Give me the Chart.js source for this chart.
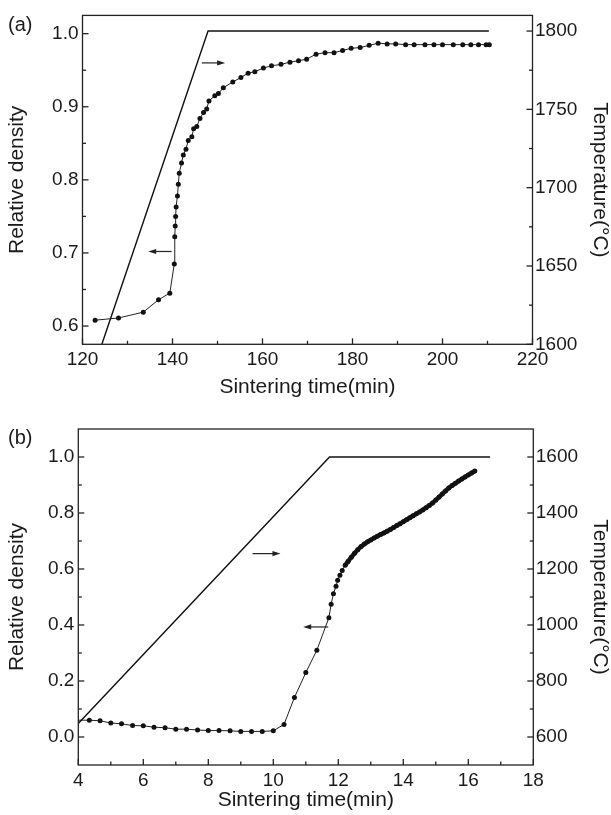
<!DOCTYPE html>
<html>
<head>
<meta charset="utf-8">
<script src="https://cdn.jsdelivr.net/npm/chart.js@4.4.0/dist/chart.umd.min.js"></script>
<style>
html, body { margin: 0; padding: 0; background: #fff; }
#wrap { position: relative; width: 611px; height: 815px; font-family: "Liberation Sans", Arial, sans-serif; }
.panel { position: absolute; left: 0; width: 611px; }
.tag { position: absolute; left: 8px; font-size: 20px; line-height: 23px; color: #1a1a1a; }
</style>
</head>
<body>
<div id="wrap">
  <div class="panel" style="top:0;height:400px"><canvas id="chartA" width="611" height="400"></canvas></div>
  <div class="panel" style="top:400px;height:415px"><canvas id="chartB" width="611" height="415"></canvas></div>
  <div class="tag" style="top:13px">(a)</div>
  <div class="tag" style="top:426px">(b)</div>
</div>
<script>
// ---- panel (a) data ----
const timeA = [122.8, 128.0, 133.5, 136.9, 139.4, 140.4, 140.5, 140.6, 140.7, 140.8, 141.1, 141.3, 141.5, 142.0,
  142.4, 143.0, 143.5, 144.3, 144.7, 145.4, 146.1, 146.9, 147.6, 148.1, 149.4, 150.2, 151.3, 153.4, 155.2,
  156.8, 158.3, 160.2, 162.0, 164.1, 166.1, 168.0, 169.8, 171.9, 173.9, 175.9, 177.8, 179.7, 181.7, 183.7,
  185.7, 187.7, 189.6, 191.8, 193.7, 196.1, 198.1, 200.0, 202.4, 204.5, 206.3, 208.0, 209.7, 210.4];
const densityA = [0.608, 0.611, 0.619, 0.636, 0.645, 0.685, 0.722, 0.737, 0.750, 0.763, 0.778, 0.794, 0.809, 0.823,
  0.834, 0.842, 0.854, 0.859, 0.870, 0.873, 0.884, 0.892, 0.897, 0.908, 0.915, 0.918, 0.926, 0.934, 0.940,
  0.946, 0.948, 0.953, 0.956, 0.958, 0.961, 0.963, 0.965, 0.972, 0.974, 0.974, 0.977, 0.980, 0.981, 0.984,
  0.987, 0.986, 0.986, 0.985, 0.985, 0.985, 0.985, 0.985, 0.985, 0.985, 0.985, 0.985, 0.985, 0.985];
const tempTimeA = [124.3, 147.9, 210.3];
const tempA = [1600, 1800, 1800];
const xTicksA = [120, 140, 160, 180, 200, 220];
const yTicksA = [0.6, 0.7, 0.8, 0.9, 1.0];
const tTicksA = [1600, 1650, 1700, 1750, 1800];
const arrowsA = [[146.5, 151.7, 0.960], [139.8, 134.6, 0.702]]; // from, to, at density

// ---- panel (b) data ----
const timeB = [4.0, 4.34, 4.67, 5.0, 5.33, 5.67, 6.0, 6.33, 6.67, 7.0, 7.33, 7.67, 8.0, 8.33, 8.67, 9.0, 9.33,
  9.66, 10.0, 10.33, 10.65, 11.0, 11.34, 11.71, 11.78, 11.85, 11.93, 11.98, 12.05, 12.12, 12.21,
  12.3, 12.4, 12.5, 12.6, 12.7, 12.8, 12.9, 13.0, 13.1, 13.2, 13.3, 13.4, 13.5, 13.6, 13.7, 13.8, 13.9,
  14.0, 14.1, 14.2, 14.3, 14.4, 14.5, 14.6, 14.7, 14.8, 14.9, 15.0, 15.1, 15.2, 15.3, 15.4, 15.5, 15.6,
  15.7, 15.8, 15.9, 16.0, 16.1, 16.2];
const densityB = [0.060, 0.060, 0.058, 0.050, 0.047, 0.041, 0.040, 0.035, 0.033, 0.028, 0.028, 0.025, 0.023, 0.023,
  0.022, 0.020, 0.020, 0.020, 0.022, 0.045, 0.141, 0.230, 0.310, 0.426, 0.474, 0.512, 0.538, 0.560, 0.578,
  0.595, 0.613, 0.627, 0.642, 0.656, 0.669, 0.680, 0.689, 0.697, 0.704, 0.711, 0.717, 0.723, 0.729, 0.735,
  0.741, 0.748, 0.755, 0.762, 0.769, 0.776, 0.783, 0.790, 0.797, 0.804, 0.811, 0.819, 0.827, 0.836, 0.846,
  0.857, 0.868, 0.879, 0.889, 0.898, 0.906, 0.914, 0.921, 0.929, 0.936, 0.943, 0.950];
const tempTimeB = [4.0, 11.73, 16.67];
const tempB = [648, 1600, 1600];
const xTicksB = [4, 6, 8, 10, 12, 14, 16, 18];
const yTicksB = [0.0, 0.2, 0.4, 0.6, 0.8, 1.0];
const tTicksB = [600, 800, 1000, 1200, 1400, 1600];
const arrowsB = [[9.36, 10.22, 0.655], [11.69, 10.92, 0.393]];

const INK = '#1a1a1a';
const FONT = '"Liberation Sans", Arial, sans-serif';

function tickMarks(ctx, scale, majors, side, a) {
  const minors = [];
  for (let i = 0; i < majors.length - 1; i++) minors.push((majors[i] + majors[i + 1]) / 2);
  const draw = (v, len) => {
    const p = scale.getPixelForValue(v);
    ctx.beginPath();
    if (side === 'bottom') { ctx.moveTo(p, a.bottom); ctx.lineTo(p, a.bottom - len); }
    if (side === 'left') { ctx.moveTo(a.left, p); ctx.lineTo(a.left + len, p); }
    if (side === 'right') { ctx.moveTo(a.right, p); ctx.lineTo(a.right - len, p); }
    ctx.stroke();
  };
  majors.forEach(v => draw(v, 6));
  minors.forEach(v => draw(v, 3.5));
}

// box, inward ticks and the little arrows
const frame = {
  id: 'frame',
  afterDatasetsDraw(chart, args, opts) {
    const { ctx, chartArea: a, scales } = chart;
    ctx.save();
    ctx.strokeStyle = '#222';
    ctx.lineWidth = 1.3;
    ctx.strokeRect(a.left, a.top, a.right - a.left, a.bottom - a.top);
    tickMarks(ctx, scales.x, opts.xTicks, 'bottom', a);
    tickMarks(ctx, scales.y, opts.yTicks, 'left', a);
    tickMarks(ctx, scales.y2, opts.tTicks, 'right', a);
    ctx.fillStyle = '#222';
    ctx.lineWidth = 1.2;
    opts.arrows.forEach(([x0, x1, v]) => {
      const p0 = scales.x.getPixelForValue(x0);
      const p1 = scales.x.getPixelForValue(x1);
      const py = scales.y.getPixelForValue(v);
      const dir = Math.sign(p1 - p0);
      ctx.beginPath();
      ctx.moveTo(p0, py);
      ctx.lineTo(p1 - dir * 6, py);
      ctx.stroke();
      ctx.beginPath();
      ctx.moveTo(p1, py);
      ctx.lineTo(p1 - dir * 8, py - 2.6);
      ctx.lineTo(p1 - dir * 8, py + 2.6);
      ctx.closePath();
      ctx.fill();
    });
    ctx.restore();
  }
};

function makeChart(id, p) {
  const tickFont = { family: FONT, size: 19 };
  const titleFont = { family: FONT, size: 21, lineHeight: 1 };
  return new Chart(document.getElementById(id).getContext('2d'), {
    type: 'scatter',
    data: {
      datasets: [
        {
          data: p.tempTime.map((t, i) => ({ x: t, y: p.temp[i] })),
          yAxisID: 'y2',
          showLine: true,
          borderColor: '#111',
          borderWidth: 1.4,
          pointRadius: 0
        },
        {
          data: p.time.map((t, i) => ({ x: t, y: p.density[i] })),
          yAxisID: 'y',
          showLine: true,
          borderColor: '#222',
          borderWidth: 1,
          segment: { borderWidth: c => (c.p0.parsed.x >= p.thickFrom ? 4.5 : 1) },
          pointRadius: p.radius,
          pointBackgroundColor: '#111',
          pointBorderWidth: 0
        }
      ]
    },
    options: {
      responsive: false,
      animation: false,
      devicePixelRatio: 1,
      events: [],
      layout: { padding: { top: p.top, left: 0, right: 0, bottom: 0 } },
      plugins: {
        legend: { display: false },
        tooltip: { enabled: false },
        frame: { xTicks: p.xTicks, yTicks: p.yTicks, tTicks: p.tTicks, arrows: p.arrows }
      },
      scales: {
        x: {
          type: 'linear', position: 'bottom', min: p.xTicks[0], max: p.xTicks[p.xTicks.length - 1],
          afterBuildTicks: s => { s.ticks = p.xTicks.map(v => ({ value: v })); },
          afterFit: s => { s.height = p.xH; },
          grid: { display: false, drawTicks: false },
          border: { display: false },
          ticks: { font: tickFont, color: INK, padding: 4, maxRotation: 0, autoSkip: false },
          title: { display: true, text: 'Sintering time(min)', color: INK, font: titleFont, padding: { top: 0, bottom: p.xTitlePad } }
        },
        y: {
          type: 'linear', position: 'left', min: p.yMin, max: p.yMax,
          afterBuildTicks: s => { s.ticks = p.yTicks.map(v => ({ value: v })); },
          afterFit: s => { s.width = p.leftW; },
          grid: { display: false, drawTicks: false },
          border: { display: false },
          ticks: { font: tickFont, color: INK, padding: 4, callback: v => v.toFixed(1) },
          title: { display: true, text: 'Relative density', color: INK, font: titleFont, padding: { top: 7, bottom: 0 } }
        },
        y2: {
          type: 'linear', position: 'right', min: p.tMin, max: p.tMax,
          afterBuildTicks: s => { s.ticks = p.tTicks.map(v => ({ value: v })); },
          afterFit: s => { s.width = p.rightW; },
          grid: { display: false, drawTicks: false },
          border: { display: false },
          ticks: { font: tickFont, color: INK, padding: 2.5, callback: v => String(v) },
          title: { display: true, text: 'Temperature(°C)', color: INK, font: titleFont, padding: { top: 0.5, bottom: 0 } }
        }
      }
    },
    plugins: [frame]
  });
}

document.addEventListener('DOMContentLoaded', () => {
  makeChart('chartA', {
    time: timeA, density: densityA, tempTime: tempTimeA, temp: tempA,
    xTicks: xTicksA, yTicks: yTicksA, tTicks: tTicksA, arrows: arrowsA,
    yMin: 0.575, yMax: 1.025, tMin: 1600, tMax: 1810,
    top: 12.3, xH: 55.7, leftW: 82.5, rightW: 78.5, xTitlePad: 2, radius: 2.5, thickFrom: 999
  });
  makeChart('chartB', {
    time: timeB, density: densityB, tempTime: tempTimeB, temp: tempB,
    xTicks: xTicksB, yTicks: yTicksB, tTicks: tTicksB, arrows: arrowsB,
    yMin: -0.1, yMax: 1.1, tMin: 500, tMax: 1700,
    top: 29, xH: 50, leftW: 78.3, rightW: 77.7, xTitlePad: 4.5,
    radius: c => (c.dataIndex === 0 ? 0 : 2.5), thickFrom: 12.2
  });
});
</script>
</body>
</html>
